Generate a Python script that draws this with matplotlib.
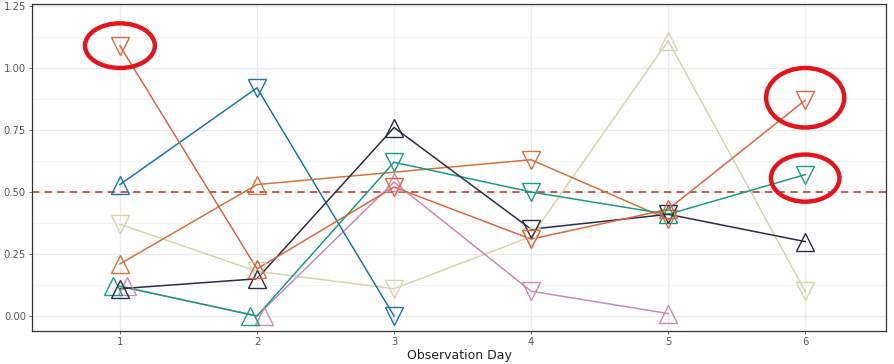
import numpy as np
import matplotlib.pyplot as plt
from matplotlib.patches import Ellipse

# Data
days = [1, 2, 3, 4, 5, 6]
nan = np.nan

blue = [0.53, 0.92, 0.00, nan, nan, nan]
orange_a = [1.09, 0.19, 0.52, 0.31, 0.43, 0.87]
orange_b = [0.21, 0.53, nan, 0.63, 0.39, nan]
navy = [0.11, 0.15, 0.76, 0.35, 0.41, 0.30]
teal = [0.12, 0.00, 0.62, 0.50, 0.41, 0.57]
pink = [0.12, 0.00, 0.54, 0.10, 0.01, nan]
beige = [0.37, 0.18, 0.11, 0.32, 1.11, 0.10]

# marker direction per point ('^' up, 'v' down)
blue_shape = ['^', 'v', 'v', '', '', '']
orange_a_shape = ['v', '^', 'v', 'v', '^', 'v']
orange_b_shape = ['^', '^', '', 'v', 'v', '']
navy_shape = ['^', '^', '^', 'v', 'v', '^']
teal_shape = ['^', '^', 'v', 'v', '^', 'v']
pink_shape = ['^', '^', '^', 'v', '^', '']
beige_shape = ['v', 'v', 'v', 'v', '^', 'v']

# (values, shapes, colour, marker nudge on the first two days)
series = [
    (beige, beige_shape, '#D3D5AE', 0.0),
    (pink, pink_shape, '#C98AB8', 0.05),
    (blue, blue_shape, '#1B75A6', 0.0),
    (orange_b, orange_b_shape, '#D0743C', 0.0),
    (teal, teal_shape, '#1A9C83', -0.05),
    (navy, navy_shape, '#2B2D42', 0.0),
    (orange_a, orange_a_shape, '#DA6640', 0.0),
]

threshold = 0.5
highlights = [(1, 1.09, 0.51, 0.18), (6, 0.88, 0.57, 0.24), (6, 0.556, 0.50, 0.19)]

fig = plt.figure(figsize=(8.95, 3.64), dpi=100)
ax = fig.add_axes([0.036, 0.091, 0.954, 0.898])

for vals, shapes, col, nudge in series:
    x = np.array(days, dtype=float)
    y = np.array(vals, dtype=float)
    ok = ~np.isnan(y)
    ax.plot(x[ok], y[ok], color=col, lw=1.1, zorder=3)
    for i, (xi, yi, m) in enumerate(zip(x, y, shapes)):
        if np.isnan(yi) or not m:
            continue
        dx = nudge if i < 2 else 0.0
        ax.plot(xi + dx, yi, marker=m, ms=13, mfc='none', mec=col, mew=1.0,
                linestyle='None', zorder=4)

ax.axhline(threshold, color='#C0504D', lw=1.3, ls=(0, (4, 3)), zorder=2)

for cx, cy, w, h in highlights:
    ax.add_patch(Ellipse((cx, cy), w, h, fill=False, ec='#E3141B', lw=3.2,
                         zorder=5, clip_on=False))

ax.set_xlim(0.36, 6.59)
ax.set_ylim(-0.06, 1.258)
ax.set_xticks(days)
ax.set_yticks([0, 0.25, 0.5, 0.75, 1.0, 1.25])
ax.set_yticklabels(['0.00', '0.25', '0.50', '0.75', '1.00', '1.25'])
ax.set_yticks([0.125, 0.375, 0.625, 0.875, 1.125], minor=True)
ax.grid(True, which='major', color='#EBEBEB', lw=1.0, zorder=0)
ax.grid(True, which='minor', axis='y', color='#F3F3F3', lw=0.6, zorder=0)
ax.set_axisbelow(True)
ax.tick_params(axis='both', which='major', labelsize=7.2, colors='#555555',
               length=2.5, width=0.6, pad=2)
ax.tick_params(axis='both', which='minor', length=0)
for s in ax.spines.values():
    s.set_color('#333333')
    s.set_linewidth(0.9)
ax.set_xlabel('Observation Day', fontsize=9, color='#222222', labelpad=1)

fig.savefig('out.png', dpi=100)
